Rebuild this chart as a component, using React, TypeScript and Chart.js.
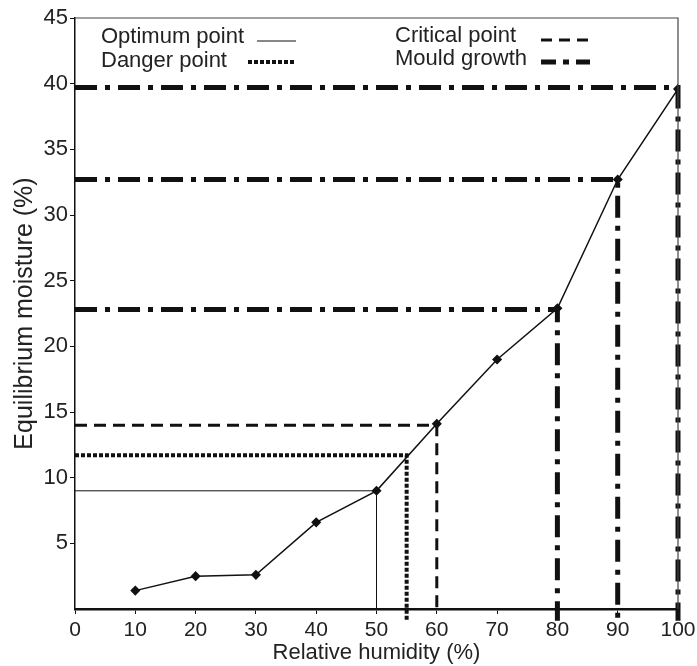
import React, { useEffect, useRef } from "react";
import { Chart, registerables } from "chart.js";

Chart.register(...registerables);

const humidity = [10, 20, 30, 40, 50, 60, 70, 80, 90, 100];
const moisture = [1.4, 2.5, 2.6, 6.6, 9.0, 14.1, 19.0, 22.9, 32.7, 39.6];

const optimumPoint = { rh: 50, m: 9.0 };
const dangerPoint = { rh: 55, m: 11.7 };
const criticalPoint = { rh: 60, m: 14.0 };
const mouldRh = [80, 90, 100];
const mouldM = [22.8, 32.7, 39.7];

const xTicks = [0, 10, 20, 30, 40, 50, 60, 70, 80, 90, 100];
const yTicks = [5, 10, 15, 20, 25, 30, 35, 40, 45];

const FONT = "'Liberation Sans', Arial, Helvetica, sans-serif";

const legendItems = [
  { label: "Optimum point", tx: 101, ty: 43, x0: 257, x1: 296, ly: 41, width: 1, dash: [] as number[] },
  { label: "Danger point", tx: 101, ty: 67, x0: 248, x1: 296, ly: 62, width: 4, dash: [4, 2] },
  { label: "Critical point", tx: 395, ty: 42, x0: 541, x1: 590, ly: 40, width: 3, dash: [11, 7] },
  { label: "Mould growth", tx: 395, ty: 65, x0: 541, x1: 590, ly: 62, width: 5, dash: [15, 7, 6, 7] },
];

const framePlugin = {
  id: "frameAndLegend",
  afterDraw(chart: any) {
    const { ctx, chartArea } = chart;
    ctx.save();
    ctx.strokeStyle = "#444";
    ctx.lineWidth = 1.2;
    ctx.beginPath();
    ctx.moveTo(chartArea.left, chartArea.top);
    ctx.lineTo(chartArea.right, chartArea.top);
    ctx.lineTo(chartArea.right, chartArea.bottom);
    ctx.stroke();

    ctx.font = `22px ${FONT}`;
    ctx.fillStyle = "#222";
    ctx.textBaseline = "alphabetic";
    legendItems.forEach((it) => {
      ctx.fillText(it.label, it.tx, it.ty);
      ctx.strokeStyle = "#111";
      ctx.lineWidth = it.width;
      ctx.setLineDash(it.dash);
      ctx.beginPath();
      ctx.moveTo(it.x0, it.ly);
      ctx.lineTo(it.x1, it.ly);
      ctx.stroke();
    });
    ctx.restore();
  },
};

export default function App() {
  const ref = useRef<HTMLCanvasElement>(null);

  useEffect(() => {
    if (!ref.current) return;
    const below = -0.9;
    const refLine = (pts: { x: number; y: number }[], width: number, dash: number[], label: string) => ({
      type: "line" as const,
      label,
      data: pts,
      borderColor: "#111",
      borderWidth: width,
      borderDash: dash,
      pointRadius: 0,
      fill: false,
      tension: 0,
      clip: false as any,
    });
    const datasets: any[] = [
      refLine(
        [
          { x: 0, y: optimumPoint.m },
          { x: optimumPoint.rh, y: optimumPoint.m },
          { x: optimumPoint.rh, y: 0 },
        ],
        1,
        [],
        "Optimum point"
      ),
      refLine(
        [
          { x: 0, y: dangerPoint.m },
          { x: dangerPoint.rh, y: dangerPoint.m },
          { x: dangerPoint.rh, y: below },
        ],
        4,
        [4, 2],
        "Danger point"
      ),
      refLine(
        [
          { x: 0, y: criticalPoint.m },
          { x: criticalPoint.rh, y: criticalPoint.m },
          { x: criticalPoint.rh, y: 0 },
        ],
        3,
        [12, 7],
        "Critical point"
      ),
      ...mouldRh.map((rh, i) =>
        refLine(
          [
            { x: 0, y: mouldM[i] },
            { x: rh, y: mouldM[i] },
            { x: rh, y: below },
          ],
          5,
          [22, 8, 5, 8],
          "Mould growth"
        )
      ),
      {
        type: "line",
        label: "Equilibrium moisture",
        data: humidity.map((h, i) => ({ x: h, y: moisture[i] })),
        borderColor: "#111",
        borderWidth: 1.5,
        pointStyle: "rectRot",
        pointRadius: 4,
        pointBackgroundColor: "#111",
        pointBorderColor: "#111",
        tension: 0,
        fill: false,
      },
    ];

    const chart = new Chart(ref.current, {
      type: "line",
      data: { datasets },
      plugins: [framePlugin],
      options: {
        animation: false,
        responsive: false,
        layout: { padding: { top: 18, right: 19, left: 0, bottom: 0 } },
        plugins: { legend: { display: false }, tooltip: { enabled: false } },
        scales: {
          x: {
            type: "linear",
            min: 0,
            max: 100,
            afterBuildTicks: (s: any) => {
              s.ticks = xTicks.map((v) => ({ value: v }));
            },
            afterFit: (s: any) => {
              s.height = 57;
              s.paddingRight = 0;
              s.paddingLeft = 0;
            },
            ticks: {
              color: "#222",
              font: { family: FONT, size: 21 },
              padding: 4,
              maxRotation: 0,
              autoSkip: false,
            },
            grid: { drawOnChartArea: false, drawTicks: true, tickLength: 5, color: "#111" },
            border: { display: true, color: "#111", width: 2.5 },
            title: {
              display: true,
              text: "Relative humidity (%)",
              color: "#222",
              font: { family: FONT, size: 22 },
              padding: { top: 0, bottom: 0 },
            },
          },
          y: {
            type: "linear",
            min: 0,
            max: 45,
            afterBuildTicks: (s: any) => {
              s.ticks = yTicks.map((v) => ({ value: v }));
            },
            afterFit: (s: any) => {
              s.width = 75;
              s.paddingTop = 0;
              s.paddingBottom = 0;
            },
            ticks: {
              color: "#222",
              font: { family: FONT, size: 22 },
              padding: 2,
              autoSkip: false,
            },
            grid: { drawOnChartArea: false, drawTicks: true, tickLength: 5, color: "#111" },
            border: { display: true, color: "#111", width: 1.5 },
            title: {
              display: true,
              text: "Equilibrium moisture (%)",
              color: "#222",
              font: { family: FONT, size: 25 },
              padding: { top: 10, bottom: 0 },
            },
          },
        },
      },
    } as any);
    return () => chart.destroy();
  }, []);

  return (
    <div style={{ position: "absolute", left: 0, top: 0, width: 697, height: 666, background: "#fff" }}>
      <canvas ref={ref} width={697} height={666} style={{ width: 697, height: 666 }} />
    </div>
  );
}
